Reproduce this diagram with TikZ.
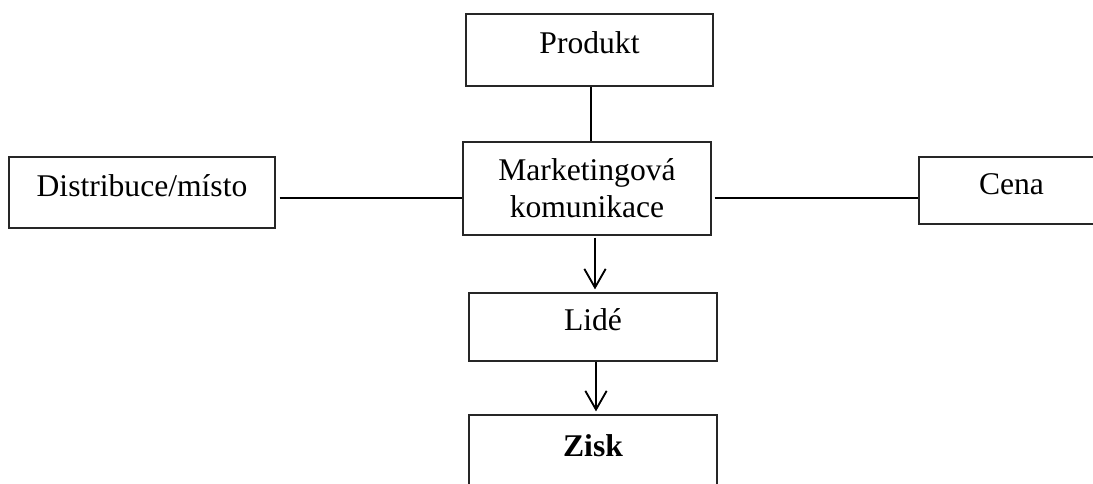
\documentclass[tikz,border=0pt]{standalone}
\usepackage{fontspec}
\setmainfont{Liberation Serif}
\usetikzlibrary{arrows.meta,calc}
\begin{document}
\begin{tikzpicture}[x=0.75pt,y=-0.75pt,
  box/.style={draw=black!85,line width=0.9pt,rectangle,inner sep=0pt,align=center,
    font=\fontsize{23.7}{27.75}\selectfont},
  lift/.style={text height=0.75em,text depth=0.18em},
  conn/.style={line width=1.4pt,black},
  arr/.style={conn,-{Straight Barb[length=14pt,width=16pt,line width=1.4pt]}}]
\useasboundingbox (0,0) rectangle (1093,483);
\node[box,lift,minimum width=247*0.75pt,minimum height=72*0.75pt] (prod) at (589.5,50) {Produkt};
\node[box,minimum width=248*0.75pt,minimum height=93*0.75pt] (mk) at (587,188.5) {Marketingová\\komunikace};
\node[box,lift,minimum width=266*0.75pt,minimum height=71*0.75pt] (dist) at (142,192.5) {Distribuce/místo};
\node[box,lift,minimum width=185*0.75pt,minimum height=67*0.75pt] (cena) at (1011.5,190.5) {Cena};
\node[box,lift,minimum width=248*0.75pt,minimum height=68*0.75pt] (lide) at (593,327) {Lidé};
\node[box,lift,minimum width=248*0.75pt,minimum height=75*0.75pt] (zisk) at (593,452.5) {\textbf{Zisk}};
\draw[conn] (prod.south -| 591,0) -- (mk.north -| 591,0);
\draw[conn] (dist.east |- 0,198) ++(4,0) -- (467,198 -| mk.west) ;
\draw[conn] ([xshift=3*0.75pt]mk.east |- 0,198) -- (cena.west |- 0,198);
\draw[arr] ([yshift=-2*0.75pt]mk.south -| 595,0) -- ([yshift=3*0.75pt]lide.north -| 595,0);
\draw[arr] (lide.south -| 596,0) -- ([yshift=3*0.75pt]zisk.north -| 596,0);
\end{tikzpicture}
\end{document}
